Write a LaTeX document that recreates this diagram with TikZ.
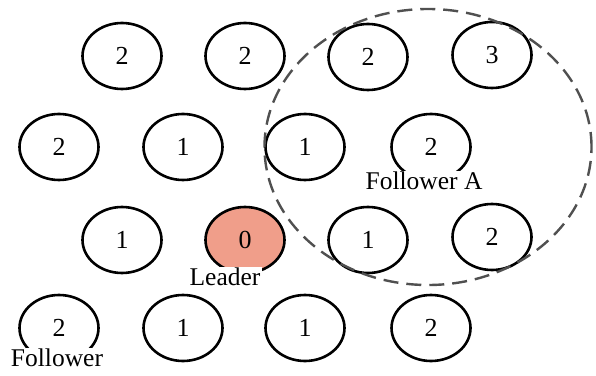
\documentclass[tikz,border=0pt]{standalone}
\usepackage{fontspec}
\setmainfont{Liberation Serif}
\usetikzlibrary{shapes.geometric}
\definecolor{leaderfill}{RGB}{240,158,138}
\definecolor{dashgrey}{RGB}{80,80,80}
\begin{document}
\begin{tikzpicture}[x=1pt,y=1pt,
  ell/.style={ellipse,draw=black,line width=2.6pt,minimum width=79pt,minimum height=66pt,inner sep=0pt,font=\fontsize{26}{26}\selectfont},
  lab/.style={fill=white,inner sep=1.5pt,font=\fontsize{25.5}{25.5}\selectfont},
  region/.style={ellipse,draw=dashgrey,line width=2.4pt,dash pattern=on 15pt off 8pt,minimum width=327pt,minimum height=276pt,inner sep=0pt}]
\useasboundingbox (0,0) rectangle (596,375);
% row 1
\node[ell] (a1) at (122,319) {2};
\node[ell] (a2) at (245,319) {2};
\node[ell] (a3) at (368,318) {2};
\node[ell] (a4) at (492,320) {3};
% row 2
\node[ell] (b1) at (59,228) {2};
\node[ell] (b2) at (183,228) {1};
\node[ell] (b3) at (305,228) {1};
\node[ell] (b4) at (431,228) {2};
% row 3
\node[ell] (c1) at (122,135) {1};
\node[ell,fill=leaderfill] (c2) at (245,135) {0};
\node[ell] (c3) at (368,135) {1};
\node[ell] (c4) at (492,138) {2};
% row 4
\node[ell] (d1) at (59,47) {2};
\node[ell] (d2) at (183,47) {1};
\node[ell] (d3) at (305,47) {1};
\node[ell] (d4) at (431,47) {2};
% region
\node[region] (reg) at (428,228) {};
% labels
\node[lab] (fa) at (424,194) {Follower A};
\node[lab] (ld) at (225,98) {Leader};
\node[lab] (fo) at (57,17) {Follower};
\end{tikzpicture}
\end{document}
